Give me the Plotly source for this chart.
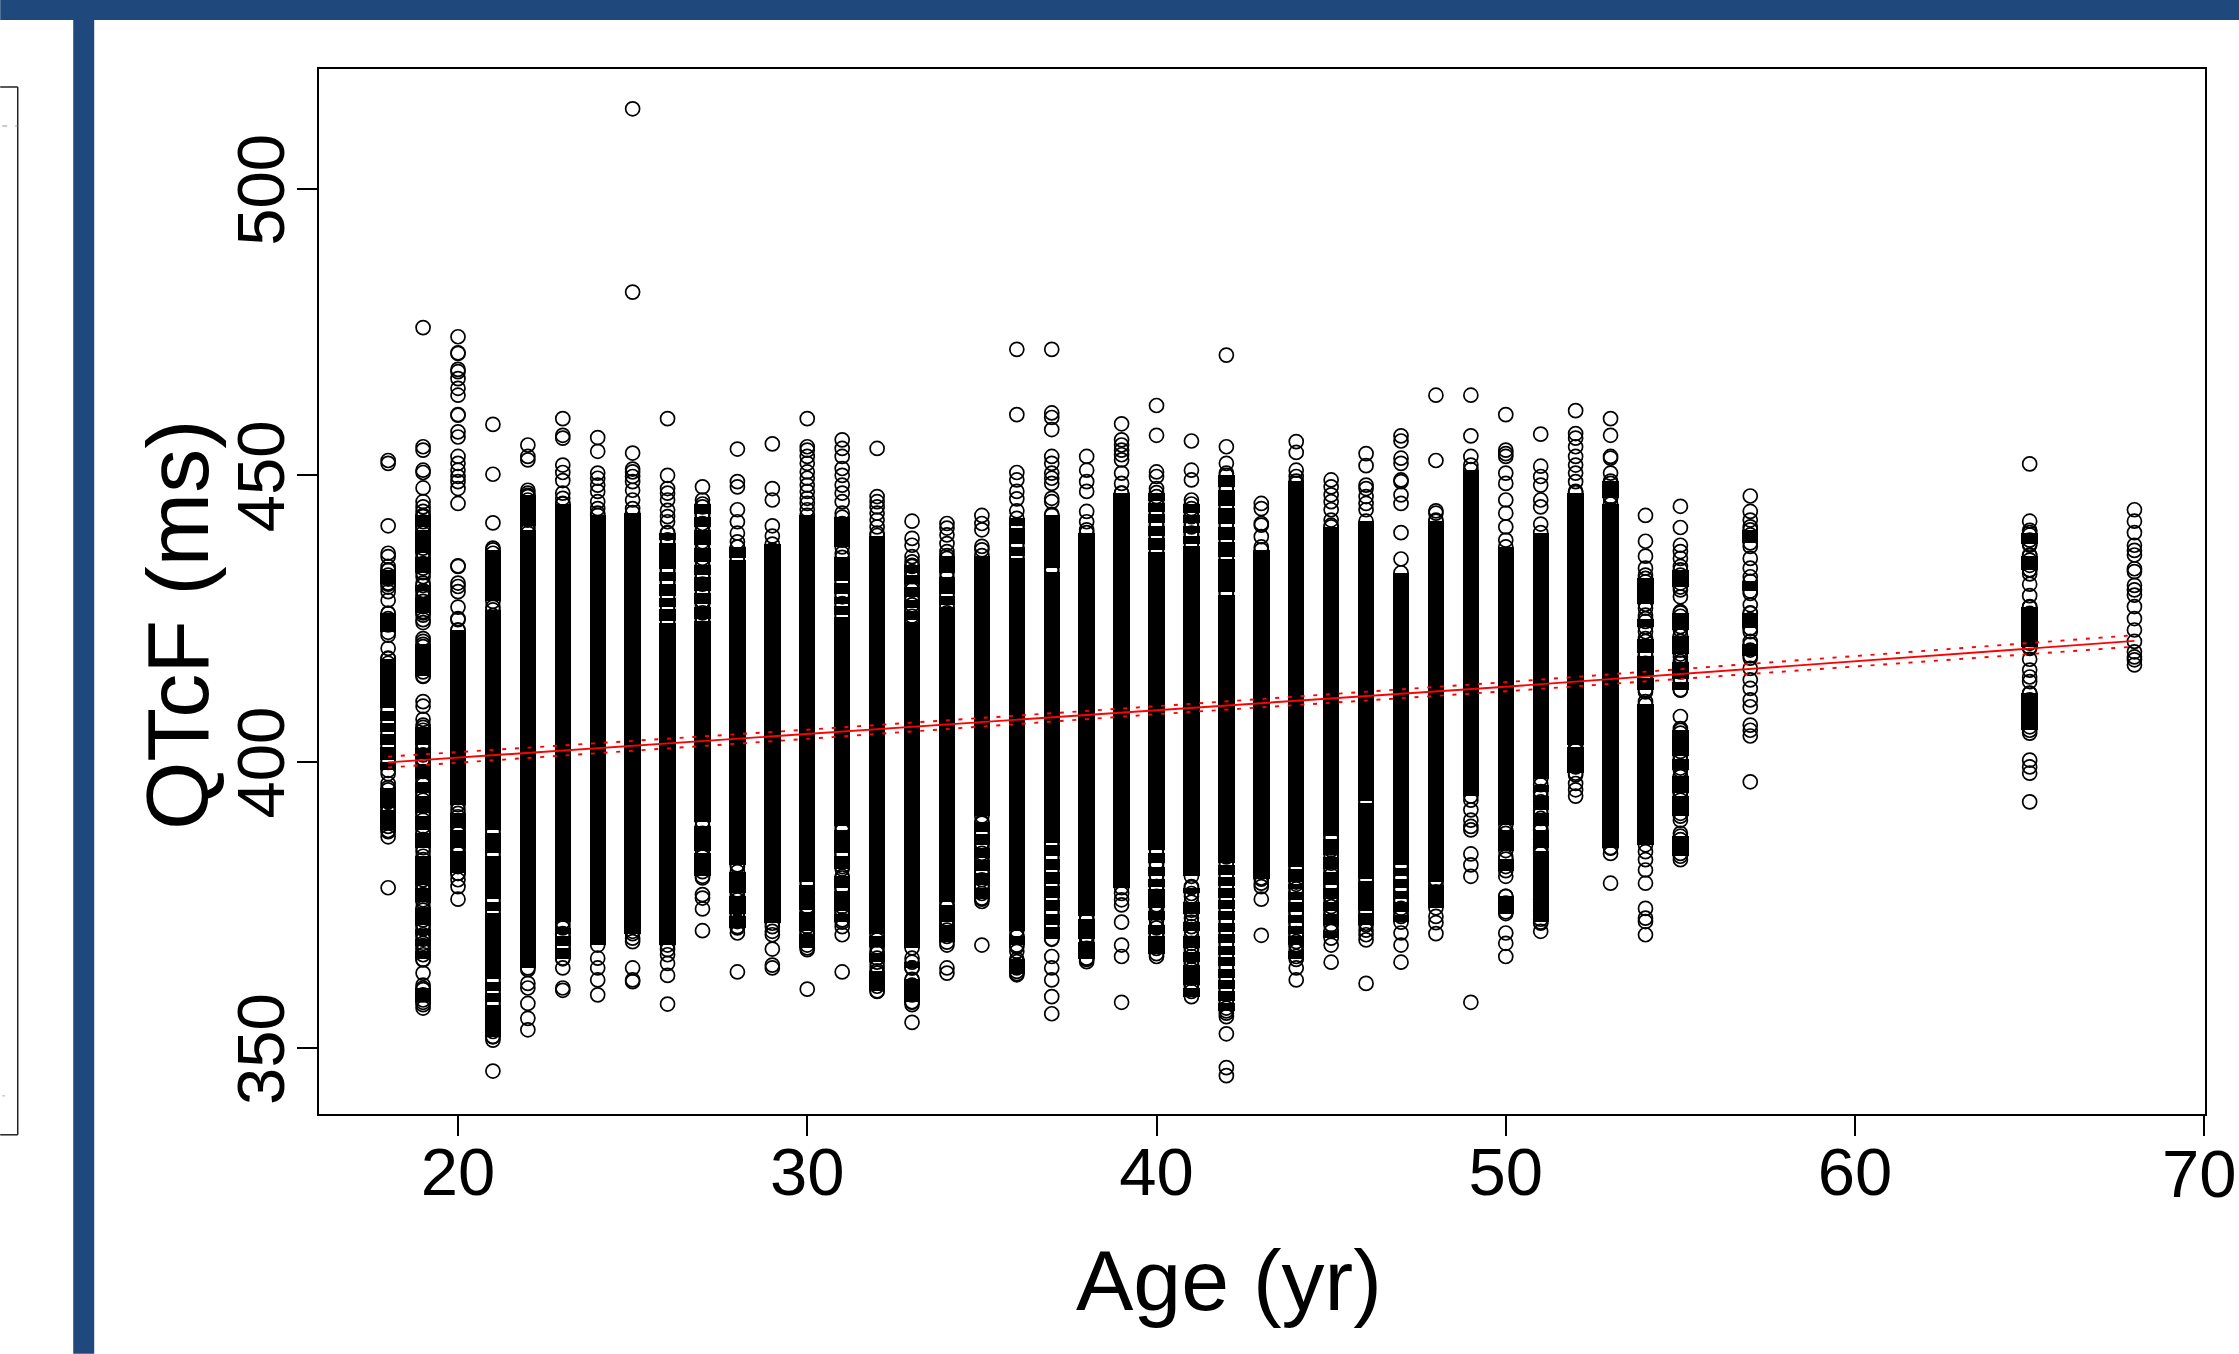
import plotly.graph_objects as go

W, H = 2239, 1354
L, T, R, B = 318.8, 69, 2205, 1114.2

x_ticks = [20, 30, 40, 50, 60, 70]
y_ticks = [350, 400, 450, 500]

rings_18 = [452.6,452.1,441.2,436.4,435.8,434.1,433.4,432.6,431.9,431.2,430.5,429.7,428.2,425.9,425,424.4,423.9,422.1,419.8,418.1,417.2,397.9,396.2,395.1,393.9,393,392.2,391.3,390.4,389.6,388.7,387.8,386.9,378]
rings_19 = [475.8,455,454.4,450.9,450.5,447.8,445.4,444.5,443.7,442.8,441.9,440.8,439.9,439,438.1,437.3,436.4,435.5,434.6,433.8,432.3,431.2,429.7,429.1,428,427.1,426.2,425.6,424.8,424.3,421.5,421,420.1,419.2,418.3,417.5,416.6,415.7,414.9,410.5,409.7,407.4,406.4,405.5,404.4,403.2,402.3,401.2,400,398.3,397.1,396,394.5,393.3,392.2,391,389.8,388.7,387.5,386.4,384.3,382.9,382,381.1,380.2,379.4,378.5,377.6,376.8,375.9,374.1,373.3,372.4,371.5,369.5,368.3,367.4,366.3,365.4,363.1,361,360.2,359.3,358.4,357.6,357]
rings_20 = [474.2,471.4,471.3,468.5,468.1,466.9,465.2,464,460.6,460.5,457.6,456.7,453.3,452.1,450.9,449.8,448.9,447.7,445.1,434.2,434.1,431.2,430.6,429.7,427,425,424.8,423,391.6,390.4,388.7,387.5,386.4,385.2,384,382.9,381.7,380.5,379.4,378.2,376]
rings_21 = [458.9,450.2,441.7,437.3,436.4,435.5,434.6,432.9,431.2,429.4,427,425.5,355.5,354.6,353.8,352.9,352,351.4,346]
rings_22 = [455.3,453.3,452.7,447.4,446.9,446.3,445.7,444.8,444,443.1,442.2,440.8,439.9,438.7,437.8,363.7,361.3,360.5,357.8,355.2,353.2]
rings_23 = [459.9,457,456.5,451.8,450.5,449.1,446.9,446,445.1,371.5,369.8,367.7,365.7,364,360.5,360.1]
rings_24 = [456.6,454.2,450.4,449.5,448.3,447.2,445.4,444.2,443.4,365.7,364,361.9,359.3]
rings_25 = [514,482,453.9,451.1,450.6,449.8,448.9,447.4,445.7,444.2,372.4,371.2,370.4,369.2,368.6,364,361.9,361.6]
rings_26 = [459.9,450,447.7,446.9,445.7,443.9,442.8,441.9,439.9,438.7,436.4,433.5,431.4,367.2,366.3,364.8,362.7,357.7]
rings_27 = [448,445.7,444.5,443.1,441.6,440.2,438.4,437,435.5,434.1,432.3,431,429.4,428,427.4,426,424.5,387.5,385.8,383.4,382,380.8,379.7,376.8,376.2,374.3,370.5]
rings_28 = [454.6,448.9,448,444,441.9,439.9,438.4,437.5,381.7,379.4,377.6,375.9,374.4,373.3,372.1,371.2,370.1,363.3]
rings_29 = [455.5,447.7,445.7,441.2,439.4,437,435.8,371.2,370.4,369.8,367.3,364.5,364]
rings_30 = [459.9,455,454.4,453.3,452.1,450.6,449.5,448.3,447.2,446,445.1,444,377,375.9,374.7,373.6,372.4,371.2,370.1,368.9,368,367.2,360.3]
rings_31 = [456.2,454.7,453.3,451.2,450,448.3,446.9,445.4,443.4,441.6,439.9,438.7,436.4,385.8,384,381.7,379.7,377.9,375.9,374.7,373.6,372.4,371.2,369.8,363.3]
rings_32 = [454.7,446.3,445.4,444.5,443.4,442.2,441,439.9,368.9,366.9,365.7,364.2,363.1,361.9,360.8,359.9]
rings_33 = [442,439,437.8,435.8,434.9,434.1,433.2,432.3,431.2,430,428.5,427.4,426.2,425.4,424.5,365.7,364,361.9,361,360.2,359.3,358.1,357.6,354.5]
rings_34 = [441.6,440.8,439.6,438.1,436.7,435.5,426,374.7,373.6,372.4,371.5,370.6,369.5,368,364,363.1]
rings_35 = [443,441.6,440.5,437.6,437,389.3,387.5,385.8,384,382.3,380.5,379.4,378.2,377,376.2,375.6,368]
rings_36 = [472,460.6,450.5,449.2,447.2,445.9,443.8,441,369.5,367.7,366.9,365.1,364.5,364,363.4,362.8]
rings_37 = [472,460.9,460.1,458,453.3,452.1,450.4,449.5,448.6,446,445.4,443.2,385.8,369,366,364,361.9,359,356]
rings_38 = [453.3,450.9,448.9,447.2,443.7,441.9,440.5,372.4,370.6,369.5,368.3,367.4,365.7,365.1]
rings_39 = [459,456.2,455.3,454.4,453.6,452.7,450.4,448.6,446.9,444.5,377,375.9,375,372,368,366,358]
rings_40 = [462.2,457,450.6,449.8,447.7,446.3,445.1,443.4,441.3,439.3,382.3,380.2,378.2,376.5,375,373.6,371,369.8,367.4,366]
rings_41 = [456,450.9,449.2,445.7,444.2,442.8,441,439.6,378.2,376.5,374.1,372.7,371.2,368.3,367.2,366,364.8,363.7,362.2,361,359.9]
rings_42 = [471,455,452.1,450.4,383.4,357,356.1,355.5,352.5,346.6,345.2]
rings_43 = [445.1,444.2,441.6,441.3,439.3,437.5,379.7,378.8,378.2,376,369.7]
rings_44 = [455.9,454,450.9,449.8,448.6,383.4,381.1,379.4,377.3,375.6,373.6,371.8,369.8,368.6,367.7,366,364,361.9]
rings_45 = [449.2,448,446.6,445.4,444,442.2,441.3,386.9,384.6,382.3,380.2,378.2,376.5,374.7,373.3,371.5,370.4,368,365]
rings_46 = [453.8,451.7,448.3,447.7,446.3,445.1,444,371.8,370.6,369.8,368.9,361.3]
rings_47 = [456.9,456,453,452.1,449.2,448.9,446.6,445.1,440,435.4,383.4,381.7,379.7,377.6,375.9,374.4,373,370.1,368,365]
rings_48 = [464,452.6,443.8,443.4,442.2,379.4,377.3,375.9,373,371.9,370]
rings_49 = [464,456.9,453.3,451.8,393.3,391.6,389.8,388.7,388.1,383.9,382,380,358]
rings_50 = [460.6,454.4,453.8,453.3,450.4,448.6,445.7,443.4,441,438.7,435.8,387.5,385.8,383.4,381.7,380,376.5,375.3,373.8,370.1,368.3,366]
rings_51 = [457.2,451.6,449.8,448.3,445.7,444.5,441.5,394.5,393,390.1,388.1,386.4,384,374,372.5,371.8,370.4]
rings_52 = [461.3,457.3,456.5,455,453.3,451.8,450.4,448.9,447.2,402,400.6,399.1,397.7,396.2,395.1,394]
rings_53 = [459.9,457,453.3,453,450.4,448.6,446.3,444,384.9,384,378.8]
rings_54 = [443,438.5,435.9,433.8,432.6,431.4,430.3,429.1,426.8,425.6,424.5,422.7,421,418.6,417.2,415.4,414.3,412.2,410.5,384.3,382.9,381.1,378.8,374.4,372.7,372.1,369.8]
rings_55 = [444.6,440.9,437.8,436.7,435.5,434.1,432.6,431.2,430,428.8,426.2,425.4,424.5,423.6,422.1,421,419.5,418.3,417.2,415.7,414.3,412.6,407.9,405.8,405,403.2,401.8,400.3,398.9,397.4,396,394.5,393.3,392.2,391,389.8,387.5,386.4,385.2,384,382.9]
rings_57 = [446.4,443.7,442.2,441,439.6,437.6,435.5,433.8,432.3,429.4,427.4,425.9,424.8,423.3,422.7,421,419.5,418.1,416.3,414.3,412.8,410.8,409.6,406.4,405.5,404.5,396.5]
rings_65 = [452,442,440.4,439.6,438.7,437.8,436.1,435.2,434.3,433.5,432.8,431,429,427.1,425.9,425,424.2,423.3,422.4,421.5,420.7,419.8,417.9,416,414.8,414,411.9,410.8,409.6,408.7,407.9,407,406.1,405,400.3,399.1,398,393]
rings_68 = [444,442,440,437.8,436.9,436.1,433.7,433.2,430.8,430,429.1,427.1,425,423,421,419.2,418.3,417.8,416.9]

ring_ages = [18,19,20,21,22,23,24,25,26,27,28,29,30,31,32,33,34,35,36,37,38,39,40,41,42,43,44,45,46,47,48,49,50,51,52,53,54,55,57,65,68]
ring_lists = [rings_18,rings_19,rings_20,rings_21,rings_22,rings_23,rings_24,rings_25,rings_26,rings_27,rings_28,rings_29,rings_30,rings_31,rings_32,rings_33,rings_34,rings_35,rings_36,rings_37,rings_38,rings_39,rings_40,rings_41,rings_42,rings_43,rings_44,rings_45,rings_46,rings_47,rings_48,rings_49,rings_50,rings_51,rings_52,rings_53,rings_54,rings_55,rings_57,rings_65,rings_68]

# runs of overlapping circles that merge into solid black: (highest, lowest) value of each run
runs_18 = [(433.5,431),(425.9,422.6),(418,409.3),(408.9,407.2),(406.8,405.2),(404.8,403),(402.6,400.3),(399.9,398.5),(395.5,392),(391.6,388)]
runs_19 = [(443,441),(440.5,436.5),(435.7,433),(430.8,429.9),(428.8,426),(420.5,415),(406,403),(402.4,400.5),(399.5,397),(396.5,394.5),(394,391),(390.5,388),(387.5,385),(383.5,378.5),(378,375.5),(374.5,371.5),(370.8,369.8),(369,367.9),(367,365.5),(360.5,358)]
runs_20 = [(423,392.5),(391,388.5),(388,385),(384.5,380.5)]
runs_21 = [(437,428),(426.5,388),(387.6,384),(383.6,376),(375.6,374),(373.6,362),(361.6,360),(359.6,358),(357.6,352)]
runs_22 = [(446.5,441.2),(440.4,364)]
runs_23 = [(445,372),(371,370),(369.5,367.8),(367.4,365.6)]
runs_24 = [(443,368)]
runs_25 = [(443.5,370)]
runs_26 = [(440,438.7),(438.2,433.6),(433.2,431.5),(431.1,429),(428.6,427),(426.6,424.6),(424.2,368)]
runs_27 = [(445,443.3),(442.8,441),(440.5,437.8),(437.3,434.9),(434.4,432.6),(432.2,429.8),(429.4,427.5),(427,425),(424.6,389.5),(388.8,384.5),(384,380)]
runs_28 = [(437.5,435.6),(435.2,382),(380.8,377),(376.6,373.5),(373,371)]
runs_29 = [(438,371.8)]
runs_30 = [(443,379),(378.5,374.2),(373.8,370.5),(370,367.5)]
runs_31 = [(442.7,437.5),(435.7,431.6),(431.2,429.3),(428.8,427.6),(427.2,425.6),(425.2,388.7),(388,384),(383.6,381.3),(380,378),(377.5,374),(373.5,372)]
runs_32 = [(439.5,370),(369.6,367.6),(366.6,365),(363.5,360)]
runs_33 = [(434.3,433),(432.6,431),(430.5,428.8),(428.2,426.8),(426.4,424.8),(424.4,367.5),(365,364),(362,358)]
runs_34 = [(436,433),(432.2,429.3),(428.9,427.4),(427,375.5),(375,372),(371.5,368.5)]
runs_35 = [(436,390.5),(389.5,387.8),(387.3,385.5),(385,383.2),(382.8,381),(380.5,378.5),(378,376)]
runs_36 = [(442.5,441.2),(440.8,438),(437.5,436),(435.6,370.5),(369.5,368),(365.5,363)]
runs_37 = [(443,433.8),(433.2,385.9),(385.5,383.5),(383.1,381.1),(380.7,378.7),(378.3,376.3),(375.9,373.9),(373.5,371.5),(371.1,369.1)]
runs_38 = [(440,373),(372.5,369),(368.5,365.5)]
runs_39 = [(446.9,445),(445,378)]
runs_40 = [(447,445.6),(445.2,443.6),(443.2,441.6),(441.2,439.5),(439.1,437),(436.6,384.6),(384,382.3),(381.7,380),(379.5,378.2),(377.7,374.5),(374,372.3),(371.5,370),(369.5,366.5)]
runs_41 = [(445,443.5),(443.1,441.6),(441.2,439.9),(439.5,438),(437.6,380),(378,377),(375.5,373.5),(372,370.5),(369.5,367.5),(366.8,365),(364.5,361),(360.5,359)]
runs_42 = [(450,447.9),(447.4,444.7),(444.3,441.5),(441,438.7),(438.3,435.8),(435.4,429.6),(429.2,384),(384,382.3),(381.9,380.3),(379.9,378.3),(377.9,376.3),(375.9,374.3),(373.9,372.3),(371.9,370.3),(369.9,368.3),(367.9,366.3),(365.9,364.3),(363.9,362.3),(361.9,360.3),(359.9,358.3),(357.9,356.5)]
runs_43 = [(437,379.5)]
runs_44 = [(449,384),(384,381.6),(381.2,379),(378.6,377.8),(377.3,375.9),(375.5,373.8),(373.3,371.8),(371.3,370),(369.5,368),(367,365.5)]
runs_45 = [(441,389),(389,387),(386.5,383.8),(383.3,381.2),(380.8,378.5),(378,376),(375.5,374),(373.5,371.5),(370.5,369.2)]
runs_46 = [(442,393.2),(392.8,379.6),(379.2,374),(373.6,371.5)]
runs_47 = [(433,384),(384,382),(381.5,380),(379.5,378),(377.5,376),(375.5,373.8),(373.3,372)]
runs_48 = [(442,381),(381,379),(378.5,374.5)]
runs_49 = [(451,394)]
runs_50 = [(437.5,389),(388,384.5),(383,381),(376.5,373.5)]
runs_51 = [(440,397),(396,394.8),(394,391.5),(391,388.8),(388,385),(384.5,376),(376,372)]
runs_52 = [(447,403),(402.5,398)]
runs_53 = [(449,446),(445,385)]
runs_54 = [(432,427.5),(425,423.5),(421.5,419),(418.5,415),(414.7,412.6),(410,385.5)]
runs_55 = [(433.5,430.5),(426,423),(422,418.8),(417.5,414.5),(414,412.5),(405.5,401),(400.5,398.5),(397.5,394.5),(394,390.5),(387,383.5)]
runs_57 = [(440.5,438.2),(431.5,429.8),(426,423.3),(420.5,418.5)]
runs_65 = [(440,438),(436,433.5),(427,420),(412,405.5)]

run_ages = [18,19,20,21,22,23,24,25,26,27,28,29,30,31,32,33,34,35,36,37,38,39,40,41,42,43,44,45,46,47,48,49,50,51,52,53,54,55,57,65]
run_lists = [runs_18,runs_19,runs_20,runs_21,runs_22,runs_23,runs_24,runs_25,runs_26,runs_27,runs_28,runs_29,runs_30,runs_31,runs_32,runs_33,runs_34,runs_35,runs_36,runs_37,runs_38,runs_39,runs_40,runs_41,runs_42,runs_43,runs_44,runs_45,runs_46,runs_47,runs_48,runs_49,runs_50,runs_51,runs_52,runs_53,runs_54,runs_55,runs_57,runs_65]

line_age  = [18, 30, 40, 50, 68]
fit_line  = [399.9, 404.8, 409.0, 413.1, 421.1]
ci_upper  = [400.9, 405.6, 409.7, 413.9, 422.1]
ci_lower  = [399.0, 404.0, 408.3, 412.3, 420.1]

FONT = "Liberation Sans, Arial, sans-serif"
BLUE = "#1F497D"

def px(x): return (x - L) / (R - L)
def py(y): return (B - y) / (B - T)

fig = go.Figure()
bx, bb, bh = [], [], []
xs, ys = [], []
for a, runs in zip(run_ages, run_lists):
    for hi, lo in runs:
        bx.append(a); bb.append(lo); bh.append(hi - lo)
        xs += [a, a]          # first and last circle of the run
        ys += [hi, lo]
fig.add_trace(go.Bar(x=bx, base=bb, y=bh, width=0.47, marker=dict(color="black", line=dict(width=0)), showlegend=False))
for a, vals in zip(ring_ages, ring_lists):
    xs += [a] * len(vals)
    ys += vals
fig.add_trace(go.Scatter(x=xs, y=ys, mode="markers", showlegend=False,
                         marker=dict(symbol="circle-open", size=14, color="black", line=dict(width=1.7, color="black"))))
fig.add_trace(go.Scatter(x=line_age, y=fit_line, mode="lines", showlegend=False,
                         line=dict(color="#FF0000", width=1.9)))
for c in (ci_upper, ci_lower):
    fig.add_trace(go.Scatter(x=line_age, y=c, mode="lines", showlegend=False,
                             line=dict(color="#FF0000", width=1.9, dash="4px,8.7px")))

def line(x0, y0, x1, y1, color="#222222", width=1.5):
    return dict(type="line", xref="paper", yref="paper", x0=px(x0), x1=px(x1), y0=py(y0), y1=py(y1),
                line=dict(color=color, width=width))
def rect(x0, y0, x1, y1):
    return dict(type="rect", xref="paper", yref="paper", x0=px(x0), x1=px(x1), y0=py(y0), y1=py(y1),
                fillcolor=BLUE, line=dict(width=0))

shapes = [rect(0, 0, W, 20), rect(73, 0, 94, H),
          line(0, 87, 17.5, 87), line(17.5, 87, 17.5, 1135), line(0, 1135, 17.5, 1135),
          line(2, 126, 7, 126, "#BBBBBB"), line(15, 126, 17, 126, "#BBBBBB"), line(2, 1096, 5, 1096, "#CCCCCC")]

annotations = [
    dict(text="Age (yr)", x=px(1229), y=py(1280), xref="paper", yref="paper", showarrow=False,
         font=dict(family=FONT, size=86, color="black"), xanchor="center", yanchor="middle"),
    dict(text="QTcF (ms)", x=px(178), y=py(625), xref="paper", yref="paper", showarrow=False, textangle=-90,
         font=dict(family=FONT, size=88, color="black"), xanchor="center", yanchor="middle"),
    dict(text="70", x=px(2238), y=py(1174), xref="paper", yref="paper", showarrow=False, borderpad=0,
         font=dict(family=FONT, size=67, color="black"), xanchor="right", yanchor="middle"),
    dict(text="0", x=px(3), y=py(1195), xref="paper", yref="paper", showarrow=False,
         font=dict(family=FONT, size=66, color="black"), xanchor="right", yanchor="middle"),
]

axis = dict(showline=True, mirror=True, linecolor="black", linewidth=1.6, showgrid=False, zeroline=False,
            ticks="outside", ticklen=20, tickwidth=1.5, tickcolor="black",
            tickfont=dict(family=FONT, size=67, color="black"))
fig.update_layout(
    width=W, height=H, autosize=False, plot_bgcolor="white", paper_bgcolor="white",
    margin=dict(l=L, r=W - R, t=T, b=H - B, pad=0), barmode="overlay", bargap=0,
    xaxis=dict(axis, range=[16.02, 70.02], tickvals=x_ticks, ticktext=[str(v) for v in x_ticks], tickangle=0,
               ticklabelstandoff=-21),
    yaxis=dict(axis, range=[338.5, 520.95], tickvals=y_ticks, ticktext=[str(v) for v in y_ticks], tickangle=-90,
               ticklabelstandoff=-14, ticklabelshift=11),
    shapes=shapes, annotations=annotations,
)
clip = "document.documentElement.style.overflow='hidden';document.body.style.margin='0';document.body.style.overflow='hidden';"
fig.write_html("out.html", config={"displayModeBar": False}, post_script=clip)
